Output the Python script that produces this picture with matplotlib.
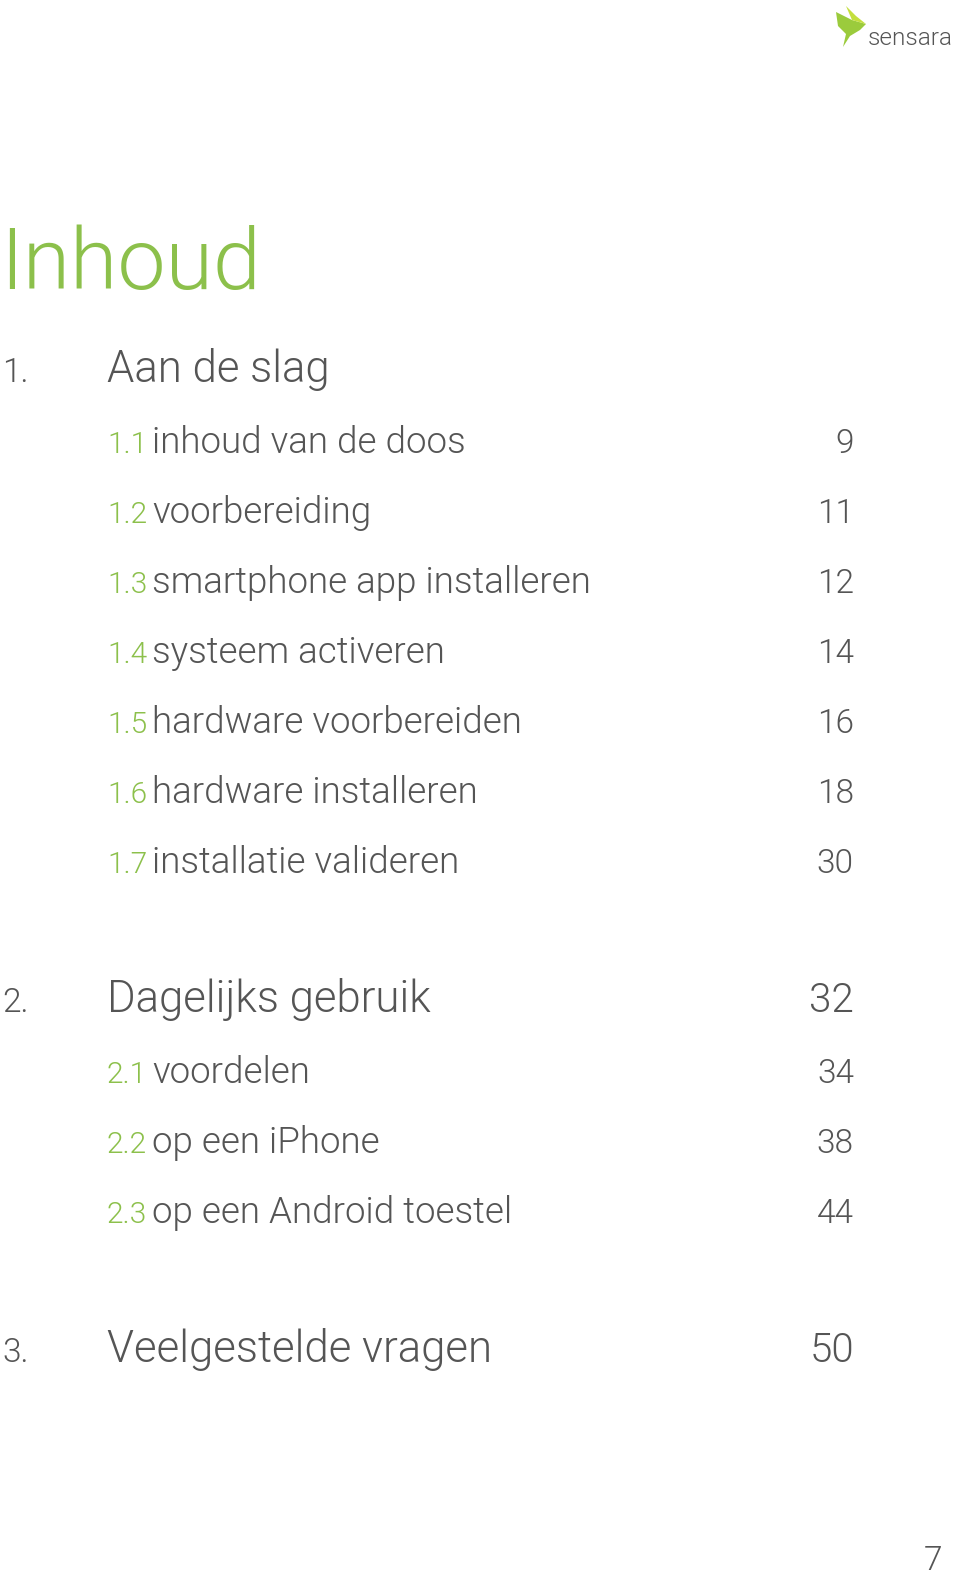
import matplotlib.pyplot as plt
from matplotlib.patches import Polygon

GREEN = '#8cc04b'
GREY = '#555555'
FONT = ['Roboto', 'DejaVu Sans']
W = 300  # light

title = "Inhoud"

chapter_nums = ["1.", "2.", "3."]
chapter_titles = ["Aan de slag", "Dagelijks gebruik", "Veelgestelde vragen"]
chapter_pages = ["", "32", "50"]
chapter_y = [382, 1012, 1362]

sub_nums = ["1.1", "1.2", "1.3", "1.4", "1.5", "1.6", "1.7", "2.1", "2.2", "2.3"]
sub_titles = ["inhoud van de doos", "voorbereiding", "smartphone app installeren",
              "systeem activeren", "hardware voorbereiden", "hardware installeren",
              "installatie valideren", "voordelen", "op een iPhone", "op een Android toestel"]
sub_pages = ["9", "11", "12", "14", "16", "18", "30", "34", "38", "44"]
sub_y = [453, 523, 593, 663, 733, 803, 873, 1083, 1153, 1223]

page_number = "7"

fig = plt.figure(figsize=(9.6, 15.78), dpi=100)
ax = fig.add_axes([0, 0, 1, 1])
ax.set_xlim(0, 960)
ax.set_ylim(1578, 0)
ax.axis('off')
renderer = fig.canvas.get_renderer()

# logo
bird = Polygon([[836, 12], [852, 20], [866, 24], [860, 30], [850, 36], [843, 47],
                [846, 34], [838, 26]], closed=True, color='#9bcb3c', lw=0)
wing = Polygon([[846, 6], [856, 16], [866, 24], [852, 20]], closed=True, color='#c4df3e', lw=0)
ax.add_patch(bird)
ax.add_patch(wing)
ax.text(868, 45, "sensara", color='#555555', fontsize=17.5, family=FONT,
        fontweight=W, va='baseline', ha='left')

ax.text(0, 289, title, color=GREEN, fontsize=62, family=FONT, fontweight=W,
        va='baseline', ha='left')

for num, t, p, y in zip(chapter_nums, chapter_titles, chapter_pages, chapter_y):
    ax.text(2, y, num, color=GREY, fontsize=24, family=FONT, fontweight=W, va='baseline')
    ax.text(107, y, t, color=GREY, fontsize=31.5, family=FONT, fontweight=W, va='baseline')
    if p:
        ax.text(854, y, p, color=GREY, fontsize=29, family=FONT, fontweight=W,
                va='baseline', ha='right')

for num, t, p, y in zip(sub_nums, sub_titles, sub_pages, sub_y):
    n = ax.text(107, y, num, color=GREEN, fontsize=21.5, family=FONT, fontweight=W,
                va='baseline', ha='left')
    bb = n.get_window_extent(renderer)
    ax.text(bb.x1 + 5, y, t, color=GREY, fontsize=26.5, family=FONT, fontweight=W,
            va='baseline', ha='left')
    ax.text(854, y, p, color=GREY, fontsize=24, family=FONT, fontweight=W,
            va='baseline', ha='right')

ax.text(942, 1570, page_number, color=GREY, fontsize=24, family=FONT, fontweight=W,
        va='baseline', ha='right')

fig.savefig('out.png', dpi=100, facecolor='white')
